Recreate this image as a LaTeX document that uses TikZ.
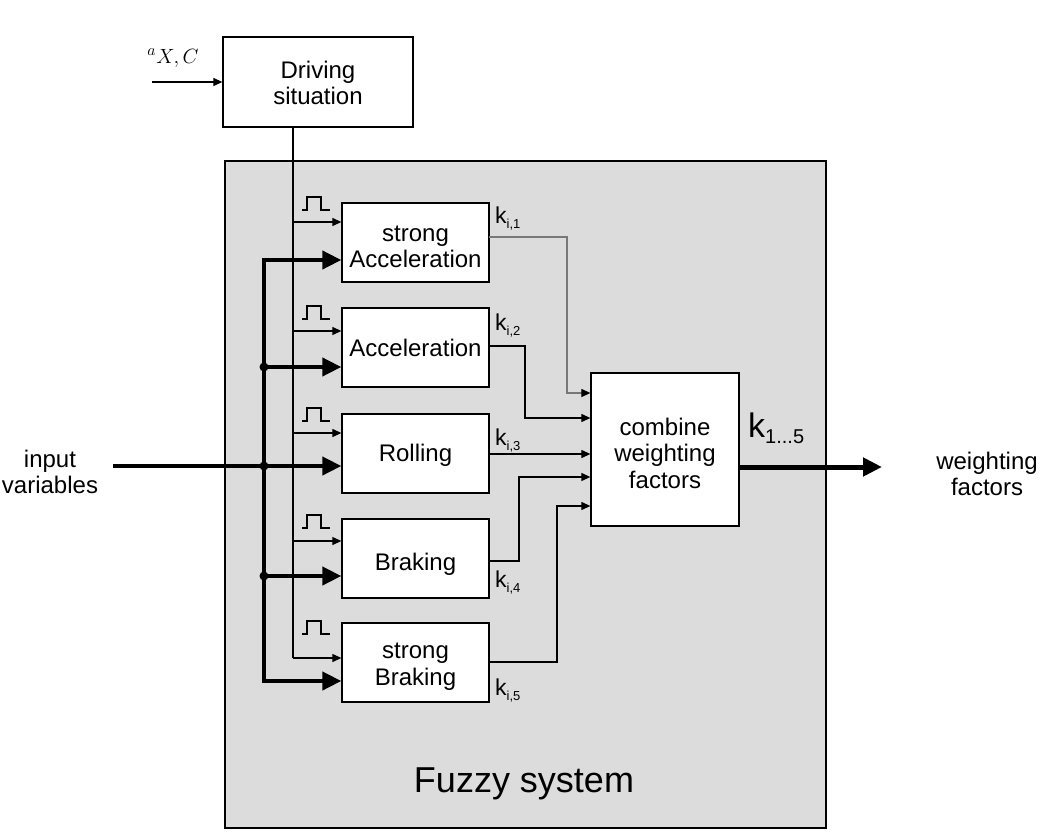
\documentclass[tikz,border=0pt]{standalone}
\usepackage{fontspec}
\setmainfont{Liberation Sans}
\usetikzlibrary{arrows.meta}
\definecolor{fuzzygray}{RGB}{220,220,220}
\definecolor{wiregray}{RGB}{120,120,120}
\newcommand\klab[1]{{\fontsize{23}{25}\selectfont k}\raisebox{-5pt}{\fontsize{13}{14}\selectfont #1}}
\begin{document}
\begin{tikzpicture}[x=1pt,y=-1pt,
  blk/.style={draw, fill=white, line width=1.3pt, inner sep=0pt},
  thinline/.style={line width=1.1pt},
  thinarr/.style={line width=1.1pt, -{Triangle[length=9pt,width=8pt,color=black]}},
  thickarr/.style={line width=4pt, -{Triangle[length=19pt,width=18pt]}},
  lbl/.style={inner sep=0pt, align=center, font=\fontsize{24}{26.5}\selectfont},
  txt/.style 2 args={label={[lbl,yshift=-#1]center:{#2}}},
  pulse/.pic={\draw[line width=1.1pt] (0,0) -- (5,0) -- (5,-13) -- (19,-13) -- (19,0) -- (28,0);}
]
\useasboundingbox (0,0) rectangle (1051,837);

% Fuzzy system background
\node[draw, fill=fuzzygray, line width=1.3pt, minimum width=601pt, minimum height=667pt, inner sep=0pt] (fuzzy) at (525.5,494.5) {};
\node[inner sep=0pt, anchor=base, font=\fontsize{36}{40}\selectfont] (fuzzylbl) at (524,792) {Fuzzy system};

% Driving situation
\node[blk, minimum width=190pt, minimum height=90pt, txt={1pt}{Driving\\situation}] (drv) at (318,82) {};
\coordinate (ain) at (152,82);
\draw[thinarr] (ain) -- (ain -| drv.west);
\node[inner sep=0pt, font=\fontsize{15}{17}\selectfont] (alab) at (173,58) {\scalebox{1.43}{$^{a}X,C$}};

% blocks
\node[blk, minimum width=147pt, minimum height=79pt, txt={4.5pt}{strong\\Acceleration}] (b1) at (415.5,242.5) {};
\node[blk, minimum width=147pt, minimum height=79pt, txt={0pt}{Acceleration}] (b2) at (415.5,347.5) {};
\node[blk, minimum width=147pt, minimum height=79pt, txt={2pt}{Rolling}] (b3) at (415.5,453.5) {};
\node[blk, minimum width=147pt, minimum height=79pt, txt={6pt}{Braking}] (b4) at (415.5,558.5) {};
\node[blk, minimum width=147pt, minimum height=79pt, txt={4pt}{strong\\Braking}] (b5) at (415.5,662.5) {};

% combine
\node[blk, minimum width=148pt, minimum height=153pt, txt={3.5pt}{combine\\weighting\\factors}] (comb) at (665,449.5) {};

% vertical thin line from driving situation
\coordinate (v0) at (293,127);
\coordinate (s1) at (293,222);
\coordinate (s2) at (293,331);
\coordinate (s3) at (293,433);
\coordinate (s4) at (293,541);
\coordinate (s5) at (293,658);
\draw[thinline] (v0) -- (s5);
\draw[thinarr] (s1) -- (s1 -| b1.west);
\draw[thinarr] (s2) -- (s2 -| b2.west);
\draw[thinarr] (s3) -- (s3 -| b3.west);
\draw[thinarr] (s4) -- (s4 -| b4.west);
\draw[thinarr] (s5) -- (s5 -| b5.west);

% pulses
\pic at (302,210) {pulse};
\pic at (302,319) {pulse};
\pic at (302,421) {pulse};
\pic at (302,528) {pulse};
\pic at (302,634) {pulse};

% thick bus
\coordinate (t1) at (264,260);
\coordinate (t2) at (264,367);
\coordinate (t3) at (264,466);
\coordinate (t4) at (264,576);
\coordinate (t5) at (264,681);
\draw[thickarr] (t5) -- (t1) -- (t1 -| b1.west);
\draw[thickarr] (t1) -- (t5) -- (t5 -| b5.west);
\draw[thickarr] (t2) -- (t2 -| b2.west);
\draw[thickarr] (t4) -- (t4 -| b4.west);
\coordinate (in0) at (113,466);
\draw[thickarr] (in0) -- (in0 -| b3.west);
\foreach \p in {t2,t3,t4} \fill (\p) circle (4.5pt);
\node[lbl] (inlbl) at (50,472) {input\\variables};

% outputs of blocks
\coordinate (o1) at (489,237);
\coordinate (i1) at (567,393);
\coordinate (o2) at (489,346);
\coordinate (i2) at (525,418);
\coordinate (o3) at (489,454);
\coordinate (o4) at (489,561);
\coordinate (i4) at (519,477);
\coordinate (o5) at (489,662);
\coordinate (i5) at (557,506);
\draw[thinarr, draw=wiregray] (o1) -| (i1) -- (i1 -| comb.west);
\draw[thinarr] (o2) -| (i2) -- (i2 -| comb.west);
\draw[thinarr] (o3) -- (o3 -| comb.west);
\draw[thinarr] (o4) -| (i4) -- (i4 -| comb.west);
\draw[thinarr] (o5) -| (i5) -- (i5 -| comb.west);

\node[inner sep=0pt, anchor=base west] (k1) at (495,223) {\klab{i,1}};
\node[inner sep=0pt, anchor=base west] (k2) at (495,330) {\klab{i,2}};
\node[inner sep=0pt, anchor=base west] (k3) at (495,445) {\klab{i,3}};
\node[inner sep=0pt, anchor=base west] (k4) at (495,587) {\klab{i,4}};
\node[inner sep=0pt, anchor=base west] (k5) at (495,695) {\klab{i,5}};

% output
\coordinate (out0) at (comb.east |- 0,467);
\coordinate (out1) at (882,467);
\draw[line width=5pt, -{Triangle[length=19pt,width=18pt]}] (out0) -- (out1);
\node[inner sep=0pt, anchor=base west] (kall) at (748,437) {{\fontsize{34}{36}\selectfont k}\raisebox{-6pt}{\fontsize{20}{22}\selectfont 1...5}};
\node[lbl] (outlbl) at (987,474) {weighting\\factors};
\end{tikzpicture}
\end{document}
